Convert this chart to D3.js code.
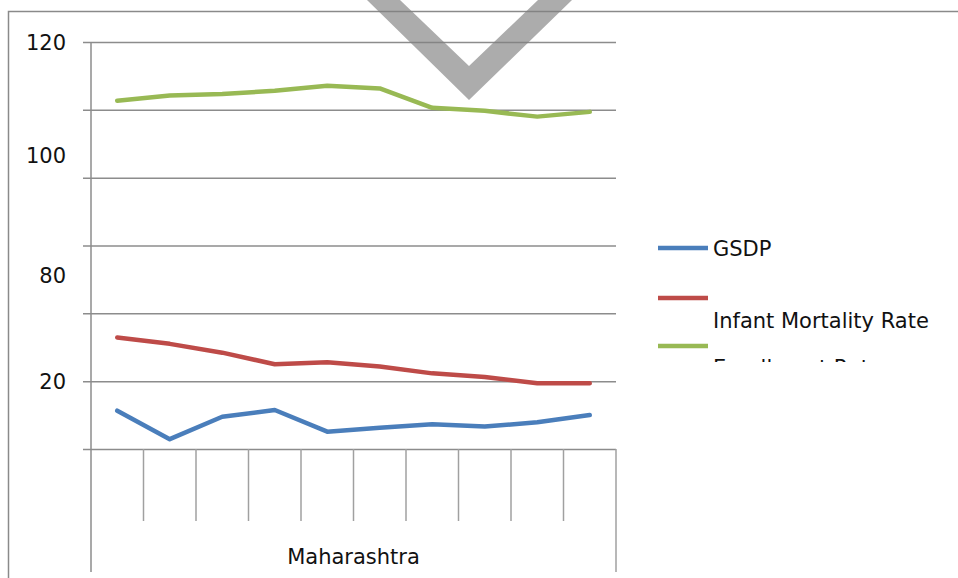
<!DOCTYPE html>
<html lang="en">
<head>
  <meta charset="UTF-8" />
  <title>Maharashtra indicators</title>
  <script src="https://d3js.org/d3.v7.min.js"></script>
  <style>
    body { margin: 0; background: #fff; font-family: "DejaVu Sans", sans-serif; }
    .grid line { stroke: #8c8c8c; stroke-width: 1.5; }
    .series { fill: none; stroke-width: 4.5; stroke-linejoin: round; stroke-linecap: round; }
    text { fill: #111; }
  </style>
</head>
<body>
  <svg width="958" height="578"></svg>

  <script>
    // Ten periods under the single group "Maharashtra" (their own labels are not shown)
    const periods = ["1", "2", "3", "4", "5", "6", "7", "8", "9", "10"];
    const group = "Maharashtra";

    const gsdp = [11.3, 2.9, 9.5, 11.5, 5.1, 6.3, 7.3, 6.6, 7.9, 10.0];
    const infantMortality = [32.9, 31.0, 28.4, 25.0, 25.6, 24.3, 22.3, 21.2, 19.4, 19.4];
    const enrollment = [102.7, 104.2, 104.7, 105.6, 107.1, 106.3, 100.6, 99.7, 98.0, 99.4];

    const seriesNames = ["GSDP", "Infant Mortality Rate", "Enrollment Rate"];
    const seriesColors = ["#4a7ebb", "#be4b48", "#98b954"];

    const gridValues = [0, 20, 40, 60, 80, 100, 120];
    // tick labels as they appear on the picture (some are displaced)
    const tickLabels = ["120", "100", "80", "20"];
    const tickLabelAt = [120, 86.5, 51.3, 20];

    const svg = d3.select("svg");

    // outer chart border (cut off at right and bottom)
    svg.append("rect")
      .attr("x", 8.5).attr("y", 11.5)
      .attr("width", 1000).attr("height", 700)
      .attr("fill", "none").attr("stroke", "#8a8a8a").attr("stroke-width", 1.5);

    const x = d3.scaleBand().domain(periods).range([91, 616]);
    const y = d3.scaleLinear().domain([0, 120]).range([449, 42]);

    // horizontal gridlines with small ticks to the left of the axis
    svg.append("g")
      .attr("class", "grid")
      .attr("transform", "translate(91,0)")
      .call(d3.axisLeft(y).tickValues(gridValues).tickSize(-525).tickFormat(""))
      .call(g => g.select(".domain").remove())
      .call(g => g.selectAll(".tick line").attr("x1", -8).attr("x2", 525));

    // y axis line
    svg.append("line")
      .attr("x1", 91).attr("x2", 91)
      .attr("y1", y(120)).attr("y2", 572)
      .attr("stroke", "#8c8c8c").attr("stroke-width", 1.5);

    // category separators
    svg.append("g")
      .selectAll("line")
      .data(periods.slice(1))
      .join("line")
      .attr("x1", d => x(d)).attr("x2", d => x(d))
      .attr("y1", y(0)).attr("y2", 521)
      .attr("stroke", "#a0a0a0").attr("stroke-width", 1.5);

    svg.append("line")
      .attr("x1", x.range()[1]).attr("x2", x.range()[1])
      .attr("y1", y(0)).attr("y2", 572)
      .attr("stroke", "#a0a0a0").attr("stroke-width", 1.5);

    // y labels
    svg.append("g")
      .selectAll("text")
      .data(tickLabels)
      .join("text")
      .attr("x", 66)
      .attr("y", (d, i) => y(tickLabelAt[i]))
      .attr("dy", "0.36em")
      .attr("text-anchor", "end")
      .attr("font-size", 21)
      .text(d => d);

    // group label
    svg.append("text")
      .attr("x", (x.range()[0] + x.range()[1]) / 2)
      .attr("y", 564)
      .attr("text-anchor", "middle")
      .attr("font-size", 21)
      .text(group);

    // lines
    const line = d3.line()
      .x((d, i) => x(periods[i]) + x.bandwidth() / 2)
      .y(d => y(d));

    [gsdp, infantMortality, enrollment].forEach((vals, k) => {
      svg.append("path")
        .datum(vals)
        .attr("class", "series")
        .attr("stroke", seriesColors[k])
        .attr("d", line);
    });

    // legend, clipped at the bottom like the picture
    svg.append("clipPath").attr("id", "legclip")
      .append("rect").attr("x", 640).attr("y", 220).attr("width", 320).attr("height", 142);

    const legend = svg.append("g").attr("clip-path", "url(#legclip)");
    const legSwatchY = [248, 298, 346];
    const legTextY = [256, 328, 375];
    seriesNames.forEach((name, k) => {
      legend.append("line")
        .attr("x1", 658).attr("x2", 708)
        .attr("y1", legSwatchY[k]).attr("y2", legSwatchY[k])
        .attr("stroke", seriesColors[k]).attr("stroke-width", 4.5);
      legend.append("text")
        .attr("x", 713).attr("y", legTextY[k])
        .attr("font-size", 21)
        .text(name);
    });

    // grey check-mark overlay at the top
    svg.append("path")
      .attr("d", "M367,0 L469,100 L572,0 L538,0 L469,66 L400,0 Z")
      .attr("fill", "#808080")
      .attr("opacity", 0.65);
  </script>
</body>
</html>
